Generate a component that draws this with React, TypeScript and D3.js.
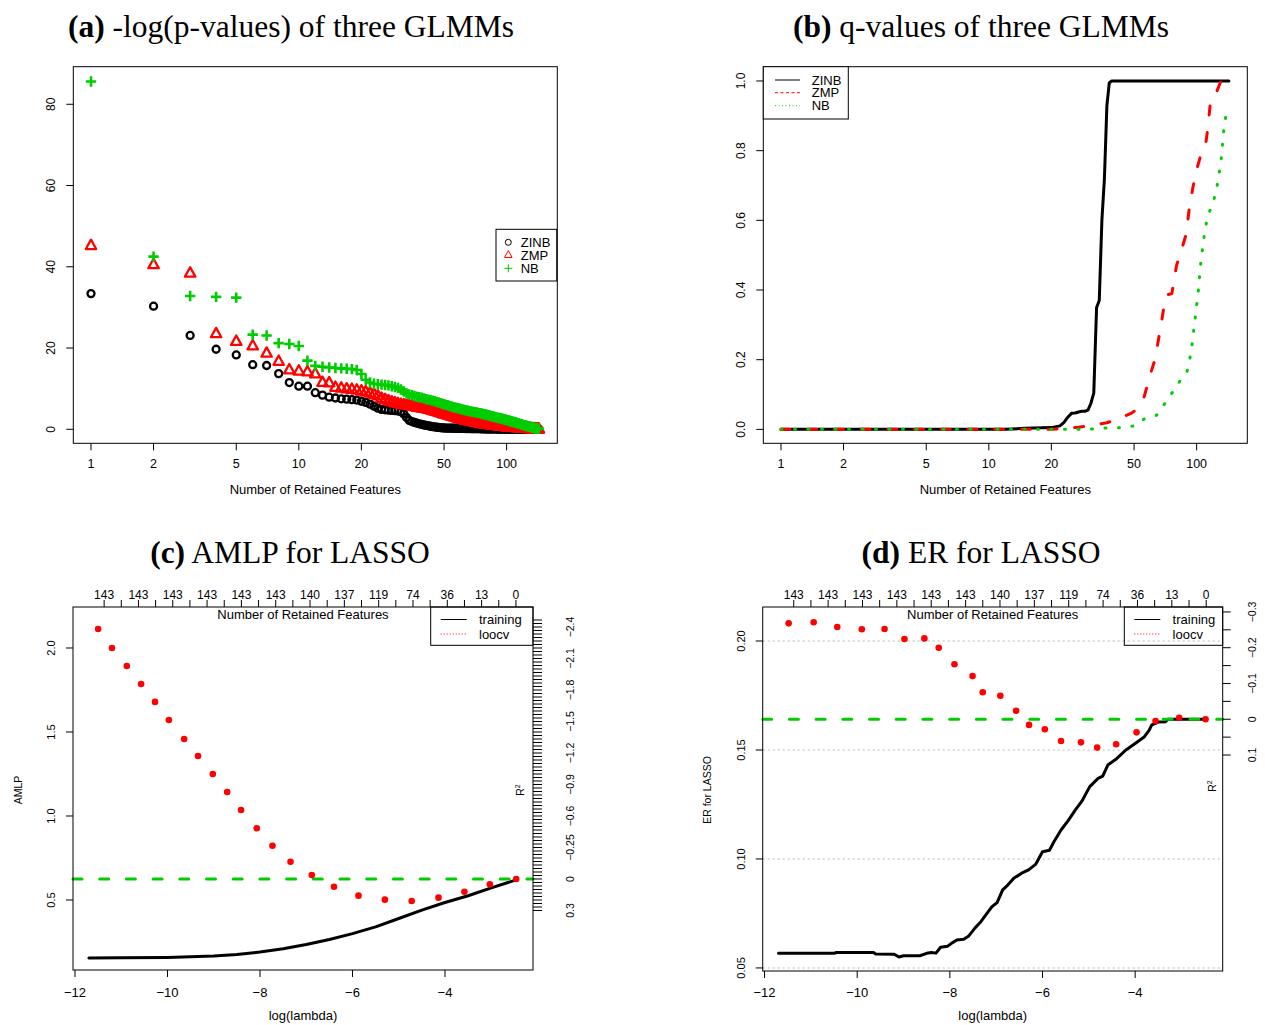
import React from 'react';
import * as d3 from 'd3';

// ---------- (a) -log(p-values), sorted by rank ----------
const zinbLogP = [
  33.4, 30.3, 23.1, 19.7, 18.3, 15.9, 15.7, 13.7, 11.5, 10.6,
  10.6, 9.0, 8.4, 7.9, 7.7, 7.5, 7.4, 7.3, 7.2, 6.9,
  6.6, 6.2, 5.7, 5.2, 4.9, 4.8, 4.7, 4.65, 4.6, 4.5,
  4.3, 3.8, 2.9, 2.2, 1.9, 1.7, 1.5, 1.35, 1.2, 1.05,
  0.95, 0.85, 0.75, 0.65, 0.58, 0.5, 0.45, 0.4, 0.35, 0.32,
  0.3, 0.29, 0.28, 0.27, 0.26, 0.25, 0.24, 0.23, 0.22, 0.21,
  0.2, 0.2, 0.19, 0.19, 0.18, 0.18, 0.17, 0.17, 0.16, 0.16,
  0.15, 0.15, 0.14, 0.14, 0.13, 0.13, 0.12, 0.12, 0.11, 0.11,
  0.1, 0.1, 0.1, 0.09, 0.09, 0.09, 0.08, 0.08, 0.08, 0.07,
  0.07, 0.07, 0.06, 0.06, 0.06, 0.05, 0.05, 0.05, 0.05, 0.04,
  0.04, 0.04, 0.04, 0.04, 0.03, 0.03, 0.03, 0.03, 0.03, 0.03,
  0.02, 0.02, 0.02, 0.02, 0.02, 0.02, 0.02, 0.02, 0.02, 0.02,
  0.02, 0.02, 0.02, 0.01, 0.01, 0.01, 0.01, 0.01, 0.01, 0.01,
  0.01, 0.01, 0.01, 0.01, 0.01, 0.005, 0.005, 0.005, 0.005, 0.005,
  0.003, 0.002, 0.001,
];
const zmpLogP = [
  45.2, 40.5, 38.4, 23.5, 21.6, 20.5, 18.7, 16.7, 14.6, 14.3,
  14.1, 13.6, 11.5, 11.4, 10.3, 10.1, 9.9, 9.8, 9.6, 9.4,
  9.2, 8.9, 8.6, 8.2, 7.6, 7.3, 7.0, 6.7, 6.5, 6.3,
  6.1, 6.0, 5.9, 5.8, 5.7, 5.55, 5.4, 5.3, 5.2, 5.1,
  5.0, 4.9, 4.75, 4.6, 4.45, 4.3, 4.15, 4.0, 3.85, 3.7,
  3.58, 3.46, 3.34, 3.22, 3.1, 2.98, 2.86, 2.74, 2.62, 2.5,
  2.42, 2.34, 2.26, 2.18, 2.1, 2.02, 1.95, 1.88, 1.81, 1.74,
  1.67, 1.6, 1.55, 1.5, 1.45, 1.4, 1.35, 1.3, 1.26, 1.22,
  1.18, 1.14, 1.1, 1.06, 1.02, 0.98, 0.95, 0.92, 0.89, 0.86,
  0.83, 0.8, 0.77, 0.74, 0.71, 0.68, 0.66, 0.64, 0.62, 0.6,
  0.58, 0.56, 0.54, 0.52, 0.5, 0.48, 0.46, 0.44, 0.42, 0.4,
  0.38, 0.37, 0.36, 0.35, 0.34, 0.33, 0.32, 0.31, 0.3, 0.29,
  0.28, 0.26, 0.24, 0.22, 0.2, 0.18, 0.16, 0.15, 0.14, 0.13,
  0.12, 0.11, 0.1, 0.09, 0.08, 0.07, 0.06, 0.05, 0.04, 0.03,
  0.02, 0.02, 0.01,
];
const nbLogP = [
  85.6, 42.5, 32.8, 32.6, 32.4, 23.3, 23.1, 21.2, 21.0, 20.5,
  16.9, 15.6, 15.4, 15.2, 15.1, 15.0, 14.9, 14.8, 14.6, 13.6,
  12.2, 11.5, 11.2, 11.1, 11.0, 10.9, 10.8, 10.6, 10.4, 10.2,
  9.8, 9.3, 8.8, 8.6, 8.4, 8.2, 8.0, 7.9, 7.8, 7.6,
  7.4, 7.3, 7.2, 7.05, 6.9, 6.75, 6.6, 6.45, 6.3, 6.15,
  6.0, 5.9, 5.75, 5.6, 5.5, 5.4, 5.3, 5.2, 5.1, 5.0,
  4.9, 4.8, 4.72, 4.64, 4.56, 4.48, 4.4, 4.34, 4.28, 4.22,
  4.16, 4.1, 4.05, 3.98, 3.91, 3.84, 3.77, 3.7, 3.63, 3.56,
  3.49, 3.42, 3.35, 3.28, 3.21, 3.14, 3.07, 3.0, 2.94, 2.88,
  2.82, 2.76, 2.7, 2.64, 2.58, 2.52, 2.46, 2.4, 2.34, 2.28,
  2.22, 2.16, 2.1, 2.04, 1.98, 1.92, 1.86, 1.8, 1.74, 1.68,
  1.62, 1.56, 1.5, 1.44, 1.38, 1.32, 1.26, 1.2, 1.14, 1.08,
  1.02, 0.97, 0.92, 0.87, 0.82, 0.77, 0.72, 0.67, 0.62, 0.57,
  0.52, 0.47, 0.43, 0.39, 0.35, 0.31, 0.27, 0.24, 0.21, 0.18,
  0.15, 0.12, 0.1,
];
const rankTicks = [1, 2, 5, 10, 20, 50, 100];
const logPTicks = [0, 20, 40, 60, 80];
const modelNames = ['ZINB', 'ZMP', 'NB'];

// ---------- (b) q-values, [rank, q] ----------
const zinbQ: [number, number][] = [
  [1, 0], [12, 0], [15, 0.003], [20, 0.005], [22, 0.01], [23, 0.02], [24, 0.035],
  [25, 0.046], [26, 0.047], [27, 0.05], [28, 0.052], [29, 0.052], [30, 0.055],
  [31, 0.075], [32, 0.105], [33, 0.35], [34, 0.37], [35, 0.6], [36, 0.72],
  [37, 0.93], [38, 0.995], [39, 1], [143, 1],
];
const zmpQ: [number, number][] = [
  [1, 0], [20, 0], [22, 0.002], [27, 0.006], [30, 0.01], [37, 0.019], [42, 0.03],
  [48, 0.045], [51, 0.055], [54, 0.075], [56, 0.095], [60, 0.16], [63, 0.2],
  [67, 0.29], [71, 0.385], [76, 0.39], [80, 0.47], [86, 0.53], [89, 0.56],
  [92, 0.63], [96, 0.695], [100, 0.745], [105, 0.79], [110, 0.81], [113, 0.86],
  [117, 0.95], [125, 0.97], [131, 1], [143, 1],
];
const nbQ: [number, number][] = [
  [1, 0], [30, 0], [37, 0.004], [43, 0.005], [50, 0.01], [56, 0.03], [64, 0.04],
  [69, 0.067], [78, 0.114], [84, 0.143], [90, 0.167], [94, 0.22], [98, 0.31],
  [102, 0.4], [105, 0.486], [109, 0.56], [113, 0.614], [120, 0.648], [126, 0.705],
  [131, 0.77], [135, 0.857], [139, 0.91], [143, 0.92],
];
const qTicks = [0, 0.2, 0.4, 0.6, 0.8, 1.0];

// ---------- (c), (d) LASSO ----------
const dfLabels = [143, 143, 143, 143, 143, 143, 140, 137, 119, 74, 36, 13, 0];
const dfTickFirst = -11.37;
const dfTickStep = 0.371;
const lambdaTicks = [-12, -10, -8, -6, -4];

const amlpTrain: [number, number][] = [
  [-11.7, 0.155], [-11, 0.156], [-10, 0.158], [-9, 0.166], [-8.5, 0.175],
  [-8, 0.19], [-7.5, 0.21], [-7, 0.235], [-6.5, 0.265], [-6, 0.3],
  [-5.5, 0.34], [-5, 0.39], [-4.5, 0.44], [-4, 0.485], [-3.5, 0.525],
  [-3, 0.572], [-2.46, 0.62],
];
const amlpLoocvLambda = [
  -11.5, -11.2, -10.88, -10.57, -10.27, -9.97, -9.64, -9.34, -9.02, -8.71, -8.41, -8.07,
  -7.73, -7.34, -6.88, -6.4, -5.87, -5.3, -4.72, -4.14, -3.58, -3.03, -2.46,
];
const amlpLoocv = [
  2.113, 2.0, 1.893, 1.786, 1.679, 1.571, 1.458, 1.357, 1.25, 1.143, 1.036, 0.927,
  0.823, 0.728, 0.649, 0.579, 0.526, 0.502, 0.494, 0.514, 0.549, 0.593, 0.625,
];
const amlpNull = 0.625;
const amlpTicks = [0.5, 1.0, 1.5, 2.0];
const amlpR2Ticks = [-2.4, -2.1, -1.8, -1.5, -1.2, -0.9, -0.6, -0.3, 0, 0.3];
const amlpR2Text = ['\u22122.4', '\u22122.1', '\u22121.8', '\u22121.5', '\u22121.2', '\u22120.9', '\u22120.6', '\u22120.25', '0', '0.3'];

const erTrain: [number, number][] = [
  [-11.7, 0.0567], [-10.5, 0.0567], [-10.45, 0.0571], [-9.65, 0.0571], [-9.6, 0.0564],
  [-9.2, 0.0563], [-9.1, 0.055], [-9.0, 0.0556], [-8.65, 0.0556], [-8.5, 0.0567],
  [-8.4, 0.0571], [-8.3, 0.0568], [-8.2, 0.0595], [-8.05, 0.06], [-7.95, 0.0615],
  [-7.85, 0.0628], [-7.7, 0.0632], [-7.6, 0.0645], [-7.45, 0.0685], [-7.33, 0.0712],
  [-7.2, 0.075], [-7.09, 0.0781], [-6.98, 0.08], [-6.86, 0.0858], [-6.75, 0.088],
  [-6.62, 0.0911], [-6.45, 0.0935], [-6.3, 0.095], [-6.15, 0.0975], [-6.0, 0.1033],
  [-5.85, 0.104], [-5.75, 0.108], [-5.6, 0.1133], [-5.45, 0.1175], [-5.29, 0.1225],
  [-5.15, 0.1265], [-4.98, 0.1332], [-4.8, 0.137], [-4.7, 0.138], [-4.59, 0.1431],
  [-4.4, 0.146], [-4.2, 0.15], [-4.0, 0.153], [-3.8, 0.1561], [-3.7, 0.159],
  [-3.64, 0.1615], [-3.5, 0.1628], [-3.34, 0.163], [-3.3, 0.1641], [-2.48, 0.1641],
];
const erLoocvLambda = [
  -11.48, -10.94, -10.43, -9.9, -9.41, -8.98, -8.55, -8.24, -7.9, -7.51, -7.29, -6.91,
  -6.57, -6.29, -5.95, -5.6, -5.17, -4.82, -4.41, -3.97, -3.56, -3.05, -2.48,
];
const erLoocv = [
  0.2081, 0.2086, 0.2064, 0.2054, 0.2055, 0.2009, 0.2012, 0.1969, 0.1893, 0.1839, 0.1765, 0.1749,
  0.168, 0.1615, 0.1595, 0.1541, 0.1535, 0.1511, 0.1526, 0.1581, 0.1633, 0.1648, 0.1641,
];
const erNull = 0.1641;
const erTicks = [0.05, 0.1, 0.15, 0.2];
const erR2Ticks = [-0.3, -0.2, -0.1, 0, 0.1];
const erR2Text = ['\u22120.3', '\u22120.2', '\u22120.1', '0', '0.1'];

const SANS = "'Liberation Sans', Arial, Helvetica, sans-serif";
const SERIF = "'Liberation Serif', 'Times New Roman', serif";
const RED = '#ff0000';
const GREEN = '#00cd00';

type Box = { l: number; r: number; t: number; b: number };

const Frame = ({ box }: { box: Box }) => (
  <rect x={box.l} y={box.t} width={box.r - box.l} height={box.b - box.t} fill="none" stroke="#000" strokeWidth={1} />
);

const Title = ({ x, y, tag, text }: { x: number; y: number; tag: string; text: string }) => (
  <text x={x} y={y} textAnchor="middle" fontFamily={SERIF} fontSize={31.5}>
    <tspan fontWeight="bold">{tag}</tspan>
    {' ' + text}
  </text>
);

const VText = ({ x, y, size, children }: any) => (
  <text transform={`translate(${x},${y}) rotate(-90)`} textAnchor="middle" fontFamily={SANS} fontSize={size}>
    {children}
  </text>
);

const triPath = (s: number) => `M0,${-1.15 * s}L${s},${0.65 * s}L${-s},${0.65 * s}Z`;
const plusPath = (s: number) => `M${-s},0H${s}M0,${-s}V${s}`;

function PanelA() {
  const box = { l: 73.3, r: 557.3, t: 66.7, b: 443.3 };
  const x = d3.scaleLog().domain([0.822, 175.3]).range([box.l, box.r]);
  const y = d3.scaleLinear().domain([-3.45, 89.25]).range([box.b, box.t]);
  const rank = (i: number) => i + 1;
  const leg = { l: 496, t: 229.3, w: 60.7, h: 51.7 };
  const rows = [242.3, 255, 268.3];
  return (
    <g>
      <Title x={291} y={37} tag="(a)" text="-log(p-values) of three GLMMs" />
      {zinbLogP.map((v, i) => (
        <circle key={'z' + i} cx={x(rank(i))} cy={y(v)} r={3.5} fill="none" stroke="#000" strokeWidth={2.3} />
      ))}
      {zmpLogP.map((v, i) => (
        <path key={'m' + i} d={triPath(5.2)} transform={`translate(${x(rank(i))},${y(v)})`} fill="none" stroke={RED} strokeWidth={2.3} strokeLinejoin="round" />
      ))}
      {nbLogP.map((v, i) => (
        <path key={'n' + i} d={plusPath(5.2)} transform={`translate(${x(rank(i))},${y(v)})`} stroke={GREEN} strokeWidth={2.6} />
      ))}
      <Frame box={box} />
      {rankTicks.map((t) => (
        <g key={t}>
          <line x1={x(t)} x2={x(t)} y1={box.b} y2={box.b + 7} stroke="#000" />
          <text x={x(t)} y={468} textAnchor="middle" fontFamily={SANS} fontSize={12.5}>{t}</text>
        </g>
      ))}
      {logPTicks.map((t) => (
        <g key={t}>
          <line x1={box.l - 7} x2={box.l} y1={y(t)} y2={y(t)} stroke="#000" />
          <VText x={55} y={y(t)} size={12}>{t}</VText>
        </g>
      ))}
      <text x={(box.l + box.r) / 2} y={494} textAnchor="middle" fontFamily={SANS} fontSize={13}>Number of Retained Features</text>
      <rect x={leg.l} y={leg.t} width={leg.w} height={leg.h} fill="#fff" stroke="#000" />
      <circle cx={508.3} cy={rows[0]} r={3} fill="none" stroke="#000" />
      <path d={triPath(3.8)} transform={`translate(508.3,${rows[1]})`} fill="none" stroke={RED} />
      <path d={plusPath(4)} transform={`translate(508.3,${rows[2]})`} stroke={GREEN} />
      {modelNames.map((n, i) => (
        <text key={n} x={520.7} y={rows[i] + 4.6} fontFamily={SANS} fontSize={13}>{n}</text>
      ))}
    </g>
  );
}

function PanelB() {
  const box = { l: 763.3, r: 1247.3, t: 66.7, b: 443.3 };
  const x = d3.scaleLog().domain([0.822, 175.3]).range([box.l, box.r]);
  const y = d3.scaleLinear().domain([-0.04, 1.041]).range([box.b, box.t]);
  const line = d3.line<[number, number]>().x((d) => x(d[0])).y((d) => y(d[1]));
  const rows = [80, 92.7, 105.7];
  const legStyles = [
    { stroke: '#000', dash: undefined },
    { stroke: RED, dash: '3,2.5' },
    { stroke: GREEN, dash: '1,2.5' },
  ];
  return (
    <g>
      <Title x={981} y={37} tag="(b)" text="q-values of three GLMMs" />
      <path d={line(zinbQ) || ''} fill="none" stroke="#000" strokeWidth={3} strokeLinejoin="round" strokeLinecap="round" />
      <path d={line(zmpQ) || ''} fill="none" stroke={RED} strokeWidth={3} strokeDasharray="9,17.7" strokeLinejoin="round" strokeLinecap="round" />
      <path d={line(nbQ) || ''} fill="none" stroke={GREEN} strokeWidth={3} strokeDasharray="1,12.5" strokeLinejoin="round" strokeLinecap="round" />
      <Frame box={box} />
      {rankTicks.map((t) => (
        <g key={t}>
          <line x1={x(t)} x2={x(t)} y1={box.b} y2={box.b + 7} stroke="#000" />
          <text x={x(t)} y={468} textAnchor="middle" fontFamily={SANS} fontSize={12.5}>{t}</text>
        </g>
      ))}
      {qTicks.map((t) => (
        <g key={t}>
          <line x1={box.l - 7} x2={box.l} y1={y(t)} y2={y(t)} stroke="#000" />
          <VText x={745} y={y(t)} size={12}>{d3.format('.1f')(t)}</VText>
        </g>
      ))}
      <text x={(box.l + box.r) / 2} y={494} textAnchor="middle" fontFamily={SANS} fontSize={13}>Number of Retained Features</text>
      <rect x={box.l} y={box.t} width={85} height={52.3} fill="#fff" stroke="#000" />
      {modelNames.map((n, i) => (
        <g key={n}>
          <line x1={775} x2={800} y1={rows[i]} y2={rows[i]} stroke={legStyles[i].stroke} strokeDasharray={legStyles[i].dash} />
          <text x={811.7} y={rows[i] + 4.6} fontFamily={SANS} fontSize={13}>{n}</text>
        </g>
      ))}
    </g>
  );
}

type LassoProps = {
  tag: string;
  title: string;
  titleX: number;
  box: Box;
  xDomain: [number, number];
  yDomain: [number, number];
  train: [number, number][];
  loocvX: number[];
  loocvY: number[];
  nullVal: number;
  yTicks: number[];
  yFmt: (v: number) => string;
  yLabel: string;
  yLabelX: number;
  yTickX: number;
  r2Minor: number[];
  r2Ticks: number[];
  r2Text: string[];
  r2TickLen: number;
  r2TextX: number;
  r2Pos: [number, number];
  grid: boolean;
  legendL: number;
};

function LassoPanel(p: LassoProps) {
  const { box } = p;
  const x = d3.scaleLinear().domain(p.xDomain).range([box.l, box.r]);
  const y = d3.scaleLinear().domain(p.yDomain).range([box.b, box.t]);
  const line = d3.line<[number, number]>().x((d) => x(d[0])).y((d) => y(d[1]));
  const r2y = (r: number) => y(p.nullVal * (1 - r));
  const dfTicks = d3.range(dfLabels.length * 2 - 1).map((i) => dfTickFirst + i * dfTickStep);
  const cx = (box.l + box.r) / 2;
  const lg = p.legendL;
  return (
    <g>
      <Title x={p.titleX} y={563} tag={p.tag} text={p.title} />
      {p.grid &&
        p.yTicks.map((t) => (
          <line key={'g' + t} x1={box.l} x2={box.r} y1={y(t)} y2={y(t)} stroke="#cfcfcf" strokeWidth={1.5} strokeDasharray="2,3" />
        ))}
      <path d={line(p.train) || ''} fill="none" stroke="#000" strokeWidth={3} strokeLinejoin="round" strokeLinecap="round" />
      <line x1={box.l} x2={box.r} y1={y(p.nullVal)} y2={y(p.nullVal)} stroke={GREEN} strokeWidth={3} strokeDasharray="9,17.7" strokeLinecap="round" />
      {p.loocvY.map((v, i) => (
        <circle key={'l' + i} cx={x(p.loocvX[i])} cy={y(v)} r={3.3} fill={RED} />
      ))}
      <Frame box={box} />
      {/* bottom axis */}
      {lambdaTicks.map((t) => (
        <g key={'b' + t}>
          <line x1={x(t)} x2={x(t)} y1={box.b} y2={box.b + 7} stroke="#000" />
          <text x={x(t)} y={997} textAnchor="middle" fontFamily={SANS} fontSize={13}>{t < 0 ? '\u2212' + -t : t}</text>
        </g>
      ))}
      <text x={cx} y={1020} textAnchor="middle" fontFamily={SANS} fontSize={13}>log(lambda)</text>
      {/* left axis */}
      {p.yTicks.map((t) => (
        <g key={'y' + t}>
          <line x1={box.l - 7} x2={box.l} y1={y(t)} y2={y(t)} stroke="#000" />
          <VText x={p.yTickX} y={y(t)} size={11}>{p.yFmt(t)}</VText>
        </g>
      ))}
      <VText x={p.yLabelX} y={790} size={10.5}>{p.yLabel}</VText>
      {/* top axis: df */}
      {dfTicks.map((t, i) => (
        <g key={'t' + i}>
          <line x1={x(t)} x2={x(t)} y1={box.t - 7} y2={box.t} stroke="#000" />
          {i % 2 === 0 && (
            <text x={x(t)} y={598.5} textAnchor="middle" fontFamily={SANS} fontSize={12}>{dfLabels[i / 2]}</text>
          )}
        </g>
      ))}
      <text x={cx} y={619} textAnchor="middle" fontFamily={SANS} fontSize={13}>Number of Retained Features</text>
      {/* right axis: R^2 */}
      {p.r2Minor.map((r, i) => (
        <line key={'r' + i} x1={box.r} x2={box.r + p.r2TickLen} y1={r2y(r)} y2={r2y(r)} stroke="#000" />
      ))}
      {p.r2Ticks.map((r, i) => (
        <VText key={'rl' + i} x={p.r2TextX} y={r2y(r)} size={10.5}>{p.r2Text[i]}</VText>
      ))}
      <text transform={`translate(${p.r2Pos[0]},${p.r2Pos[1]}) rotate(-90)`} textAnchor="middle" fontFamily={SANS} fontSize={10.5}>
        R<tspan dy={-4} fontSize={7}>2</tspan>
      </text>
      {/* legend */}
      <rect x={lg} y={box.t} width={box.r - lg} height={38.3} fill="none" stroke="#000" />
      <line x1={lg + 10} x2={lg + 36} y1={619.5} y2={619.5} stroke="#000" />
      <line x1={lg + 10} x2={lg + 36} y1={634} y2={634} stroke={RED} strokeDasharray="1,2" />
      <text x={lg + 48.3} y={624} fontFamily={SANS} fontSize={13}>training</text>
      <text x={lg + 48.3} y={638.5} fontFamily={SANS} fontSize={13}>loocv</text>
    </g>
  );
}

export default function App() {
  const amlpMinor = d3.range(84).map((i) => 0.3 - i / 30);
  const erMinor = d3.range(9).map((i) => -0.3 + i * 0.05);
  return (
    <svg
      width={1265}
      height={1025}
      viewBox="0 0 1265 1025"
      style={{ position: 'absolute', left: 0, top: 0, background: '#fff' }}
    >
      <PanelA />
      <PanelB />
      <LassoPanel
        tag="(c)"
        title="AMLP for LASSO"
        titleX={290}
        box={{ l: 73, r: 533, t: 607, b: 970 }}
        xDomain={[-12.043, -2.097]}
        yDomain={[0.0833, 2.244]}
        train={amlpTrain}
        loocvX={amlpLoocvLambda}
        loocvY={amlpLoocv}
        nullVal={amlpNull}
        yTicks={amlpTicks}
        yFmt={d3.format('.1f')}
        yLabel="AMLP"
        yLabelX={22}
        yTickX={54.5}
        r2Minor={amlpMinor}
        r2Ticks={amlpR2Ticks}
        r2Text={amlpR2Text}
        r2TickLen={9}
        r2TextX={574}
        r2Pos={[524, 790]}
        grid={false}
        legendL={430.7}
      />
      <LassoPanel
        tag="(d)"
        title="ER for LASSO"
        titleX={981}
        box={{ l: 762.7, r: 1222.7, t: 607, b: 971 }}
        xDomain={[-12.04, -2.11]}
        yDomain={[0.0486, 0.2156]}
        train={erTrain}
        loocvX={erLoocvLambda}
        loocvY={erLoocv}
        nullVal={erNull}
        yTicks={erTicks}
        yFmt={d3.format('.2f')}
        yLabel="ER for LASSO"
        yLabelX={711}
        yTickX={744.5}
        r2Minor={erMinor}
        r2Ticks={erR2Ticks}
        r2Text={erR2Text}
        r2TickLen={8}
        r2TextX={1256}
        r2Pos={[1216, 786]}
        grid={true}
        legendL={1124.3}
      />
    </svg>
  );
}
